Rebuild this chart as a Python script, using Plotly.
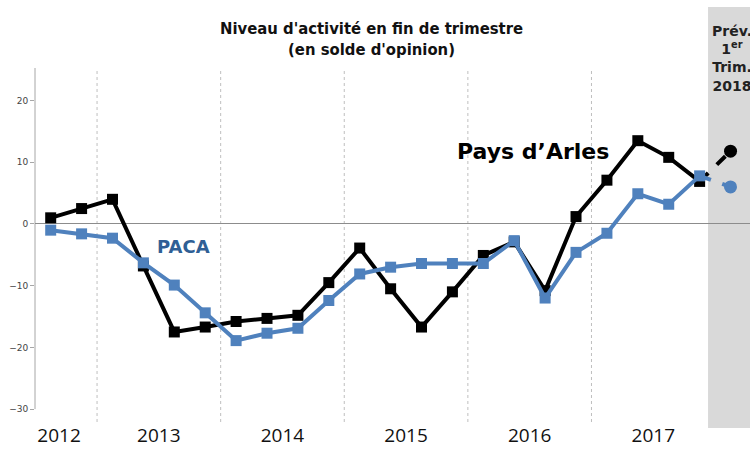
import plotly.graph_objects as go

# ---- data ----
quarters = ["T3 2012", "T4 2012",
            "T1 2013", "T2 2013", "T3 2013", "T4 2013",
            "T1 2014", "T2 2014", "T3 2014", "T4 2014",
            "T1 2015", "T2 2015", "T3 2015", "T4 2015",
            "T1 2016", "T2 2016", "T3 2016", "T4 2016",
            "T1 2017", "T2 2017", "T3 2017", "T4 2017"]
arles = [1.0, 2.5, 4.0, -6.8, -17.5, -16.7, -15.8, -15.3, -14.8, -9.5,
         -3.9, -10.5, -16.7, -11.0, -5.1, -2.9, -10.8, 1.2, 7.1, 13.5, 10.8, 6.9]
paca = [-1.0, -1.6, -2.3, -6.3, -9.9, -14.4, -18.9, -17.7, -16.9, -12.4,
        -8.1, -7.0, -6.4, -6.4, -6.4, -2.7, -12.0, -4.6, -1.5, 4.9, 3.2, 7.8]
forecast_label = "T1 2018"
arles_forecast = 11.8
paca_forecast = 6.0

years = ["2012", "2013", "2014", "2015", "2016", "2017"]
year_first_quarter = ["T3 2012", "T1 2013", "T1 2014", "T1 2015", "T1 2016", "T1 2017"]
y_ticks = [-30, -20, -10, 0, 10, 20]

# ---- positions ----
idx = list(range(len(quarters)))
f_idx = len(quarters)
starts = [quarters.index(q) for q in year_first_quarter]
ends = starts[1:] + [len(quarters)]
year_pos = [(s + e - 1) / 2 for s, e in zip(starts, ends)]
year_pos[0] = year_pos[0] - 0.23
boundaries = [s - 0.5 for s in starts[1:]]

BLACK = "#000000"
BLUE = "#4F81BD"

fig = go.Figure()

fig.add_trace(go.Scatter(x=idx, y=arles, mode="lines+markers",
                         line=dict(color=BLACK, width=4),
                         marker=dict(symbol="square", size=11, color=BLACK),
                         showlegend=False, hoverinfo="skip"))
fig.add_trace(go.Scatter(x=[idx[-1], f_idx], y=[arles[-1], arles_forecast],
                         mode="lines", line=dict(color=BLACK, width=4, dash="dash"),
                         showlegend=False, hoverinfo="skip"))
fig.add_trace(go.Scatter(x=[f_idx], y=[arles_forecast], mode="markers",
                         marker=dict(symbol="circle", size=13, color=BLACK),
                         showlegend=False, hoverinfo="skip"))
fig.add_trace(go.Scatter(x=idx, y=paca, mode="lines+markers",
                         line=dict(color=BLUE, width=4),
                         marker=dict(symbol="square", size=11, color=BLUE),
                         showlegend=False, hoverinfo="skip"))
fig.add_trace(go.Scatter(x=[idx[-1], f_idx], y=[paca[-1], paca_forecast],
                         mode="lines", line=dict(color=BLUE, width=4, dash="dash"),
                         showlegend=False, hoverinfo="skip"))
fig.add_trace(go.Scatter(x=[f_idx], y=[paca_forecast], mode="markers",
                         marker=dict(symbol="circle", size=13, color=BLUE),
                         showlegend=False, hoverinfo="skip"))

shapes = []
# forecast shaded zone
shapes.append(dict(type="rect", xref="paper", yref="paper",
                   x0=0.9413, x1=1.0, y0=-0.017, y1=1.172,
                   fillcolor="#d9d9d9", line=dict(width=0), layer="below"))
# year separators
for b in boundaries:
    shapes.append(dict(type="line", xref="x", yref="paper", x0=b, x1=b, y0=0, y1=1,
                       line=dict(color="#bfbfbf", width=1, dash="3px,3px"), layer="below"))
# y axis line
shapes.append(dict(type="line", xref="paper", yref="y", x0=0, x1=0, y0=-30, y1=25.3,
                   line=dict(color="#a6a6a6", width=1), layer="below"))

annotations = [
    dict(text="<b>Niveau d'activité en fin de trimestre<br>(en solde d'opinion)</b>",
         xref="paper", yref="paper", x=0.47, y=1.083, showarrow=False,
         font=dict(family="DejaVu Sans Condensed", size=16.5, color="#111111"),
         xanchor="center", yanchor="middle"),
    dict(text="<b>Prév.<br>1<sup>er</sup><br>Trim.<br>2018</b>",
         xref="paper", yref="paper", x=(732 - 35) / 715, y=1.028, showarrow=False,
         font=dict(family="DejaVu Sans", size=14, color="#222222"),
         xanchor="center", yanchor="middle"),
    dict(text="<b>Pays d’Arles</b>", xref="x", yref="y", x=15.6, y=11.8, showarrow=False,
         font=dict(family="DejaVu Sans", size=22, color="#000000"),
         xanchor="center", yanchor="middle"),
    dict(text="<b>PACA</b>", xref="x", yref="y", x=4.3, y=-3.7, showarrow=False,
         font=dict(family="DejaVu Sans", size=18, color="#2F5F95"),
         xanchor="center", yanchor="middle"),
]

fig.update_layout(
    width=750, height=453,
    margin=dict(l=35, r=0, t=68, b=31, autoexpand=False),
    paper_bgcolor="white", plot_bgcolor="rgba(0,0,0,0)",
    shapes=shapes, annotations=annotations,
    xaxis=dict(range=[-0.508, 22.63], showgrid=False, zeroline=False, showline=False,
               automargin=False,
               tickmode="array", tickvals=year_pos, ticktext=years,
               ticks="", ticklen=0,
               tickfont=dict(family="Open Sans", size=19, color="#111111")),
    yaxis=dict(range=[-32.09, 25.28], showgrid=False, showline=False, automargin=False,
               zeroline=True, zerolinecolor="#8c8c8c", zerolinewidth=1,
               tickmode="array", tickvals=y_ticks,
               ticks="outside", ticklen=4, tickcolor="#a6a6a6",
               tickfont=dict(family="DejaVu Sans", size=9, color="#444444")),
)

fig.write_html("out.html", config={"displayModeBar": False},
               post_script="document.body.style.margin='0';document.body.style.overflow='hidden';")
